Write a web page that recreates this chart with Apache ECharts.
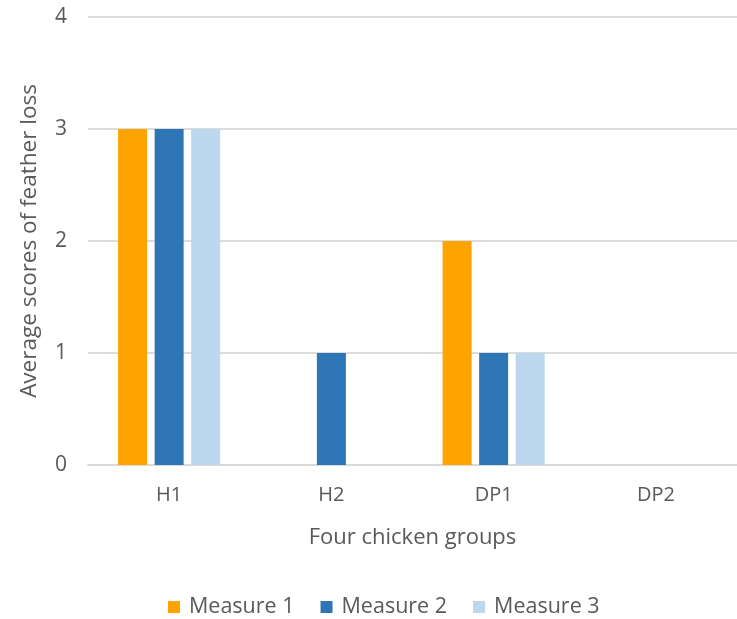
<!DOCTYPE html>
<html>
<head>
<meta charset="utf-8">
<script src="https://cdn.jsdelivr.net/npm/echarts@6/dist/echarts.min.js"></script>
<style>
  html, body { margin: 0; padding: 0; background: #ffffff; }
  #chart { width: 737px; height: 619px; }
</style>
</head>
<body>
<div id="chart"></div>
<script>
// Chicken groups along the x axis
const groups = ['H1', 'H2', 'DP1', 'DP2'];
// Average feather-loss score for each measurement round
const measure1 = [3, 0, 2, 0];
const measure2 = [3, 1, 1, 0];
const measure3 = [3, 0, 1, 0];
const seriesNames = ['Measure 1', 'Measure 2', 'Measure 3'];
const yTicks = [0, 1, 2, 3, 4];

const colors = ['#FFA300', '#2E75B6', '#BDD7EE'];
const textColor = '#595959';
const fontFamily = '"Open Sans", "Noto Sans", sans-serif';

const chart = echarts.init(document.getElementById('chart'), null, { renderer: 'canvas' });

const makeBar = (name, data, color) => ({
  name: name,
  type: 'bar',
  data: data,
  barWidth: 29,
  barGap: '26%',
  itemStyle: { color: color },
  z: 3
});

chart.setOption({
  animation: false,
  backgroundColor: '#ffffff',
  textStyle: { fontFamily: fontFamily, color: textColor },
  grid: { left: 88, right: -10, top: 17, bottom: 154, containLabel: false },
  legend: {
    data: seriesNames,
    bottom: -4,
    left: 163,
    icon: 'rect',
    itemWidth: 12,
    itemHeight: 12,
    itemGap: 26,
    textStyle: { fontFamily: fontFamily, fontSize: 21.5, color: textColor, padding: [0, 0, 0, 4] }
  },
  xAxis: {
    type: 'category',
    data: groups,
    name: 'Four chicken groups',
    nameLocation: 'middle',
    nameGap: 62,
    nameTextStyle: { fontFamily: fontFamily, fontSize: 22, color: textColor },
    axisLine: { show: true, lineStyle: { color: '#d9d9d9', width: 2 } },
    axisTick: { show: false },
    axisLabel: { margin: 20, fontSize: 20, color: textColor, fontFamily: fontFamily },
    splitLine: { show: false }
  },
  yAxis: {
    type: 'value',
    min: yTicks[0],
    max: yTicks[yTicks.length - 1],
    interval: 1,
    name: 'Average scores of feather loss',
    nameLocation: 'middle',
    nameGap: 47,
    nameRotate: 90,
    nameTextStyle: { fontFamily: fontFamily, fontSize: 22.5, color: textColor },
    axisLine: { show: false },
    axisTick: { show: false },
    axisLabel: { margin: 21, fontSize: 21, color: textColor, fontFamily: fontFamily },
    splitLine: { show: true, lineStyle: { color: '#dcdcdc', width: 2 } }
  },
  series: [
    makeBar(seriesNames[0], measure1, colors[0]),
    makeBar(seriesNames[1], measure2, colors[1]),
    makeBar(seriesNames[2], measure3, colors[2])
  ]
});
</script>
</body>
</html>
